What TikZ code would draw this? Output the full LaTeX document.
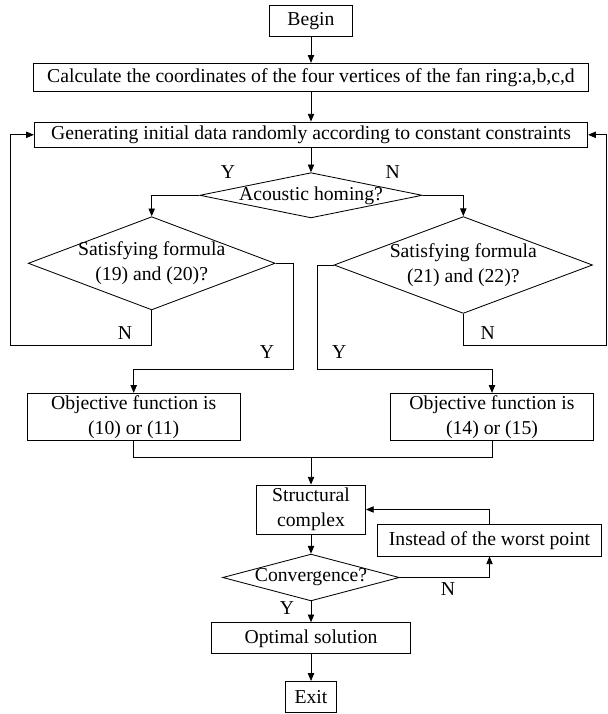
\documentclass[tikz,border=0pt]{standalone}
\usepackage{fontspec}
\setmainfont{Liberation Serif}
\usetikzlibrary{shapes.geometric,arrows.meta}

\begin{document}
\begin{tikzpicture}[x=0.025cm, y=-0.025cm, line width=0.6pt,
		every node/.style={font=\fontsize{14}{17.8}\selectfont},
		box/.style={draw, rectangle, inner sep=0pt, align=center},
		decision/.style={draw, diamond, inner xsep=0pt, align=center},
		arr/.style={-{Triangle[length=5.5pt, width=4.5pt]}}]

		\useasboundingbox (0,0) rectangle (607,714);

		% --- Main Column ---
		\node[box, minimum width=2.085cm, minimum height=0.79cm] (begin) at (311,20.8) {Begin};
		\node[box, minimum width=13.875cm, minimum height=0.71cm] (calc) at (311,77.5) {Calculate the coordinates of the four vertices of the fan ring:a,b,c,d};
		\node[box, minimum width=13.83cm, minimum height=0.64cm] (gen) at (311,134.8) {Generating initial data randomly according to constant constraints};
		\node[decision, inner ysep=-2pt, shape aspect=5, minimum width=5.56cm, minimum height=1.13cm] (acoustic) at (311,195.3) {Acoustic homing?};

		% --- Branches ---
		\node[decision, inner ysep=-6pt, shape aspect=3, minimum width=6.17cm, minimum height=2.33cm] (sat1) at (151.7,263.3) {Satisfying formula\\(19) and (20)?};
		\node[decision, inner ysep=-6pt, shape aspect=3, minimum width=6.46cm, minimum height=2.42cm] (sat2) at (463.3,265) {Satisfying formula\\(21) and (22)?};
		\node[box, minimum width=5.32cm, minimum height=1.17cm] (obj1) at (133.7,416.7) {Objective function is\\(10) or (11)};
		\node[box, minimum width=5.065cm, minimum height=1.17cm] (obj2) at (492,416.7) {Objective function is\\(14) or (15)};

		% --- Lower Part ---
		\node[box, minimum width=2.725cm, minimum height=1.225cm] (struct) at (311,509.5) {Structural\\complex};
		\node[box, minimum width=5.61cm, minimum height=0.79cm] (worst) at (489.5,540.2) {Instead of the worst point};
		\node[decision, inner ysep=-2pt, shape aspect=4.2, minimum width=4.415cm, minimum height=1.17cm] (conv) at (311,577.5) {Convergence?};
		\node[box, minimum width=4.98cm, minimum height=0.78cm] (optimal) at (311,638.3) {Optimal solution};
		\node[box, minimum width=1.27cm, minimum height=0.78cm] (exit) at (311,697) {Exit};

		% --- Corner Points ---
		\coordinate (loopL) at (10,345.7);
		\coordinate (loopR) at (606,345.7);
		\coordinate (yesL) at (293.3,369.3);
		\coordinate (yesR) at (317.3,369.3);
		\coordinate (join) at (311,457.7);

		% --- Connectors ---
		\draw[arr] (begin) -- (calc);
		\draw[arr] (calc) -- (gen);
		\draw[arr] (gen) -- (acoustic);
		\draw[arr] (acoustic.west) -| (sat1.north);
		\draw[arr] (acoustic.east) -| (sat2.north);

		% retry loops
		\draw[arr] (sat1.south) |- (loopL) |- (gen.west);
		\draw[arr] (sat2.south) |- (loopR) |- (gen.east);

		% accepted data
		\draw[arr] (sat1.east) -| (yesL) -| (obj1.north);
		\draw[arr] (sat2.west) -| (yesR) -| (obj2.north);
		\draw (obj1.south) |- (join) -| (obj2.south);
		\draw[arr] (join) -- (struct.north);

		% complex loop
		\draw[arr] (struct) -- (conv);
		\draw[arr] (conv.east) -| (worst.south);
		\draw[arr] (worst.north) |- (struct.east);
		\draw[arr] (conv) -- (optimal);
		\draw[arr] (optimal) -- (exit);

		% --- Labels ---
		\node (yA) at (228,171.7) {Y};
		\node (nA) at (392.7,171.7) {N};
		\node (nL) at (125,333) {N};
		\node (yL) at (267,351.7) {Y};
		\node (yR) at (339.3,351.7) {Y};
		\node (nR) at (487.7,333) {N};
		\node (nC) at (448,589) {N};
		\node (yC) at (287,608) {Y};

	\end{tikzpicture}
\end{document}
